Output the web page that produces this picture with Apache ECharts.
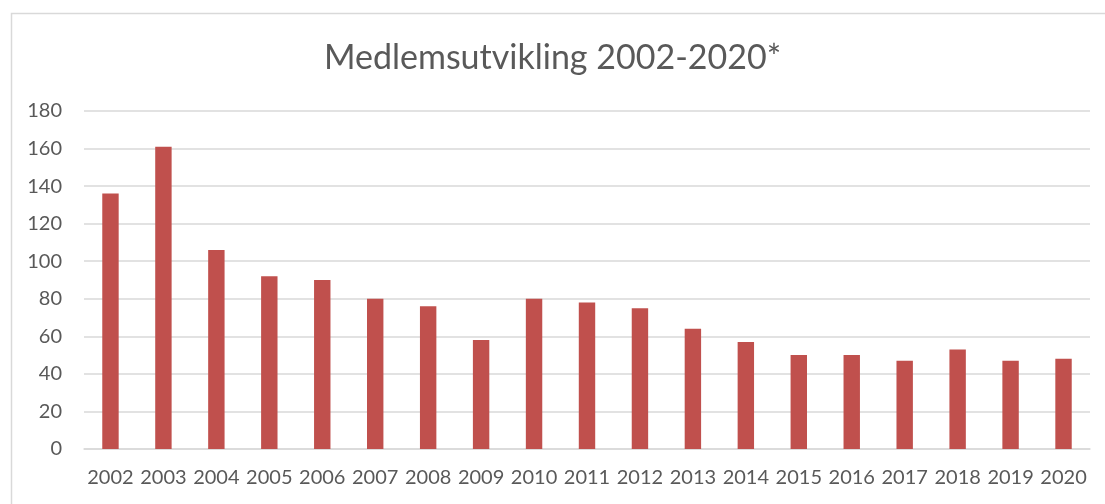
<!DOCTYPE html>
<html lang="no">
<head>
    <meta charset="UTF-8"/>
    <title>Medlemsutvikling</title>
    <script src="https://cdn.jsdelivr.net/npm/echarts@6/dist/echarts.min.js"></script>
    <style>
        html, body { margin: 0; padding: 0; background: #fff; }
        #main { width: 1105px; height: 504px; }
    </style>
</head>
<body>
<div id="main"></div>
<script>
    // data
    var years = ['2002', '2003', '2004', '2005', '2006', '2007', '2008', '2009', '2010', '2011',
                 '2012', '2013', '2014', '2015', '2016', '2017', '2018', '2019', '2020'];
    var members = [136, 161, 106, 92, 90, 80, 76, 58, 80, 78, 75, 64, 57, 50, 50, 47, 53, 47, 48];
    var yTicks = [0, 20, 40, 60, 80, 100, 120, 140, 160, 180];

    var myChart = echarts.init(document.getElementById('main'));
    var font = 'Lato, "Open Sans", sans-serif';

    var option = {
        animation: false,
        backgroundColor: '#fff',
        title: {
            text: 'Medlemsutvikling 2002-2020*',
            left: 'center',
            top: 36,
            textStyle: { fontFamily: font, fontSize: 34, fontWeight: 'normal', color: '#595959' }
        },
        graphic: [{
            // the frame round the chart
            type: 'rect',
            left: 9, top: 11,
            shape: { width: 1110, height: 520 },
            style: { fill: 'none', stroke: '#d9d9d9', lineWidth: 1.5 },
            silent: true
        }],
        grid: { left: 84, right: 15, top: 111, bottom: 55 },
        xAxis: {
            type: 'category',
            data: years,
            axisLine: { show: true, lineStyle: { color: '#d9d9d9', width: 1.5 } },
            axisTick: { show: false },
            axisLabel: { fontFamily: font, fontSize: 20, color: '#595959', margin: 19, interval: 0 }
        },
        yAxis: {
            type: 'value',
            min: yTicks[0],
            max: yTicks[yTicks.length - 1],
            interval: yTicks[1] - yTicks[0],
            axisLine: { show: false },
            axisTick: { show: false },
            axisLabel: { fontFamily: font, fontSize: 20, color: '#595959', margin: 22 },
            splitLine: { lineStyle: { color: '#d9d9d9', width: 1.5 } }
        },
        series: [{
            type: 'bar',
            data: members,
            barWidth: '31%',
            itemStyle: { color: '#c0504d' }
        }]
    };
    myChart.setOption(option);
</script>
</body>
</html>
